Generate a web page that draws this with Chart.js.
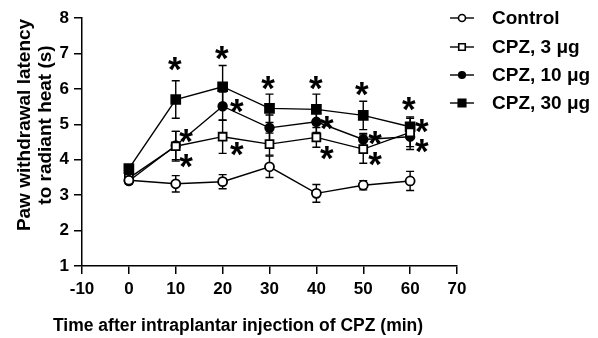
<!DOCTYPE html>
<html>
<head>
<meta charset="utf-8">
<script src="https://cdn.jsdelivr.net/npm/chart.js@4.4.0/dist/chart.umd.min.js"></script>
<style>
html,body{margin:0;padding:0;background:#fff;}
#wrap{width:598px;height:338px;position:relative;}
</style>
</head>
<body>
<div id="wrap"><canvas id="c" width="598" height="338"></canvas></div>
<script>
// ---- data ----
const times = [0, 10, 20, 30, 40, 50, 60];
const seriesNames = ['Control', 'CPZ, 3 \u03BCg', 'CPZ, 10 \u03BCg', 'CPZ, 30 \u03BCg'];
const control = [3.42, 3.32, 3.38, 3.80, 3.05, 3.28, 3.40];
const controlErr = [0.10, 0.23, 0.20, 0.30, 0.25, 0.13, 0.27];
const cpz3 = [3.48, 4.38, 4.65, 4.44, 4.63, 4.30, 4.77];
const cpz3Err = [0.10, 0.42, 0.47, 0.31, 0.28, 0.40, 0.40];
const cpz10 = [3.40, 4.40, 5.51, 4.90, 5.07, 4.57, 4.65];
const cpz10Err = [0.08, 0.40, 0.40, 0.36, 0.30, 0.17, 0.36];
const cpz30 = [3.75, 5.70, 6.06, 5.45, 5.42, 5.25, 4.93];
const cpz30Err = [0.10, 0.53, 0.60, 0.40, 0.43, 0.40, 0.28];
// significance asterisks (data coordinates)
const starX = [9.8, 12.2, 12.2, 19.85, 23.0, 23.0, 29.7, 39.9, 42.2, 42.2, 49.7, 52.5, 52.5, 59.7, 62.5, 62.5];
const starY = [6.73, 4.70, 3.99, 7.04, 5.54, 4.33, 6.19, 6.19, 5.06, 4.21, 6.02, 4.64, 4.05, 5.60, 4.98, 4.41];
const xTicks = [-10, 0, 10, 20, 30, 40, 50, 60, 70];
const yTicks = [1, 2, 3, 4, 5, 6, 7, 8];
const xTitle = 'Time after intraplantar injection of CPZ (min)';
const yTitle = ['Paw withdrawal latency', 'to radiant heat (s)'];

const allVals = [control, cpz3, cpz10, cpz30];
const allErrs = [controlErr, cpz3Err, cpz10Err, cpz30Err];
const styles = [
  {ps: 'circle', r: 4.5, fill: '#fff'},
  {ps: 'rect', r: 5.6, fill: '#fff'},
  {ps: 'circle', r: 4.3, fill: '#000'},
  {ps: 'rect', r: 6.3, fill: '#000'}
];

const FONT = '"Liberation Sans", Arial, sans-serif';

const datasets = allVals.map((vals, i) => ({
  label: seriesNames[i],
  data: vals.map((v, j) => ({x: times[j], y: v})),
  borderColor: '#000',
  borderWidth: 1.4,
  pointStyle: styles[i].ps,
  pointRadius: styles[i].r,
  pointBackgroundColor: styles[i].fill,
  pointBorderColor: '#000',
  pointBorderWidth: 1.8,
  tension: 0,
  fill: false,
  errs: allErrs[i]
}));

const errorBars = {
  id: 'errorBars',
  beforeDatasetsDraw(chart) {
    const ctx = chart.ctx, xs = chart.scales.x, ys = chart.scales.y;
    ctx.save();
    ctx.strokeStyle = '#000';
    ctx.lineWidth = 1.4;
    chart.data.datasets.forEach(ds => {
      ds.data.forEach((p, j) => {
        const e = ds.errs[j];
        const px = xs.getPixelForValue(p.x);
        const yt = ys.getPixelForValue(p.y + e);
        const yb = ys.getPixelForValue(p.y - e);
        ctx.beginPath();
        ctx.moveTo(px, yt); ctx.lineTo(px, yb);
        ctx.moveTo(px - 4, yt); ctx.lineTo(px + 4, yt);
        ctx.moveTo(px - 4, yb); ctx.lineTo(px + 4, yb);
        ctx.stroke();
      });
    });
    ctx.restore();
  }
};

const extras = {
  id: 'extras',
  afterDraw(chart) {
    const ctx = chart.ctx, xs = chart.scales.x, ys = chart.scales.y;
    ctx.save();
    ctx.fillStyle = '#000';
    // asterisks
    ctx.font = 'bold 35px ' + FONT;
    ctx.textAlign = 'center';
    ctx.textBaseline = 'middle';
    starX.forEach((sx, i) => {
      ctx.fillText('*', xs.getPixelForValue(sx), ys.getPixelForValue(starY[i]) + 8);
    });
    // axis titles
    ctx.font = 'bold 17.5px ' + FONT;
    ctx.textBaseline = 'middle';
    ctx.fillText(xTitle, 238, 326);
    ctx.save();
    ctx.translate(35, 125);
    ctx.rotate(-Math.PI / 2);
    ctx.font = 'bold 19px ' + FONT;
    ctx.fillText(yTitle[0], 0, -10);
    ctx.fillText(yTitle[1], 0, 11);
    ctx.restore();
    // legend
    const rows = [18, 47, 75, 103];
    rows.forEach((ry, i) => {
      ctx.strokeStyle = '#000';
      ctx.lineWidth = 1.4;
      ctx.beginPath();
      ctx.moveTo(450, ry); ctx.lineTo(474, ry);
      ctx.stroke();
      const s = styles[i];
      ctx.lineWidth = 1.6;
      ctx.fillStyle = s.fill;
      ctx.beginPath();
      if (s.ps === 'circle') {
        ctx.arc(462, ry, s.r - 1, 0, Math.PI * 2);
      } else {
        const h = (s.r - 1) * Math.SQRT1_2;
        ctx.rect(462 - h, ry - h, 2 * h, 2 * h);
      }
      ctx.fill();
      ctx.stroke();
      ctx.fillStyle = '#000';
      ctx.font = 'bold 19px ' + FONT;
      ctx.textAlign = 'left';
      ctx.fillText(seriesNames[i], 492, ry + 1);
    });
    ctx.restore();
  }
};

new Chart(document.getElementById('c'), {
  type: 'line',
  data: {datasets},
  plugins: [errorBars, extras],
  options: {
    responsive: false,
    animation: false,
    devicePixelRatio: 1,
    layout: {padding: {left: 0, right: 141, top: 18, bottom: 0}},
    plugins: {legend: {display: false}, tooltip: {enabled: false}},
    scales: {
      x: {
        type: 'linear', min: -10, max: 70,
        afterFit(s) { s.height = 72; },
        afterBuildTicks(s) { s.ticks = xTicks.map(v => ({value: v})); },
        grid: {display: true, drawOnChartArea: false, drawTicks: true, tickLength: 8, color: '#000', lineWidth: 1.5},
        border: {display: true, color: '#000', width: 1.5},
        ticks: {color: '#000', font: {family: FONT, weight: 'bold', size: 17}, padding: 5, maxRotation: 0}
      },
      y: {
        type: 'linear', min: 1, max: 8,
        afterFit(s) { s.width = 82; },
        afterBuildTicks(s) { s.ticks = yTicks.map(v => ({value: v})); },
        grid: {display: true, drawOnChartArea: false, drawTicks: true, tickLength: 8, color: '#000', lineWidth: 1.5},
        border: {display: true, color: '#000', width: 1.5},
        ticks: {color: '#000', font: {family: FONT, weight: 'bold', size: 17}, padding: 5}
      }
    }
  }
});
</script>
</body>
</html>
